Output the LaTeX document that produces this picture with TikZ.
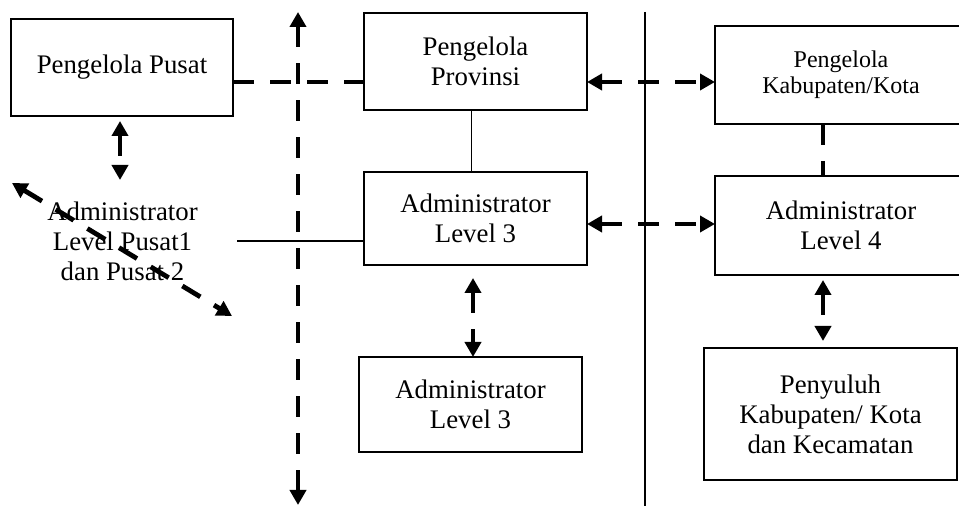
\documentclass[tikz,border=0pt]{standalone}
\usepackage{fontspec}
\setmainfont{Liberation Serif}
\usetikzlibrary{positioning,calc,arrows.meta}
\tikzset{kotak/.style={draw, line width=0.65pt, rectangle, align=center, inner sep=0pt, outer sep=0pt, minimum width=111.5pt, minimum height=48.5pt, font=\fontsize{13.4}{15}\selectfont}}
\tikzset{teks/.style={align=center, inner sep=0pt, font=\fontsize{13.4}{15}\selectfont}}
\tikzset{garis/.style={draw, line width=0.65pt}}
\tikzset{putus/.style={draw, line width=2.4pt, dash pattern=on 10.5pt off 8pt}}
\tikzset{panah/.style={putus, {Triangle[length=7.5pt,width=8pt]}-{Triangle[length=7.5pt,width=8pt]}}}

\begin{document}
\begin{tikzpicture}
	\useasboundingbox (0,0) rectangle (479.5pt,-253pt);
	\node[kotak, minimum width=111pt] (pusat) at (61pt,-33.75pt) {Pengelola Pusat};
	\node[kotak, right=65.5pt of pusat, yshift=3pt] (prov) {Pengelola\\Provinsi};
	\node[kotak, below=31pt of prov, minimum height=46.5pt] (adm3) {Administrator\\Level 3};
	\node[kotak, below=46pt of adm3, xshift=-2.5pt, minimum height=47.5pt] (adm3b) {Administrator\\Level 3};
	\node[kotak, right=64pt of prov, yshift=-6.75pt, minimum width=126pt, minimum height=49pt,
		font=\fontsize{12}{13}\selectfont] (kab) {Pengelola\\Kabupaten/Kota};
	\node[kotak, below=26pt of kab, minimum width=126pt, minimum height=49.5pt] (adm4) {Administrator\\Level 4};
	\node[kotak, below=36.5pt of adm4, xshift=-5.25pt, minimum width=126.5pt, minimum height=66pt] (peny)
		{Penyuluh\\Kabupaten/ Kota\\dan Kecamatan};
	\node[teks] (admpusat) at ($(pusat)+(0.25pt,-86.75pt)$) {Administrator\\Level Pusat1\\dan Pusat 2};
	%
	\coordinate (atas) at (149pt,-6pt);
	\coordinate (bawah) at (149pt,-252.5pt);
	\coordinate (batasT) at (322.5pt,-6pt);
	\coordinate (batasB) at (322.5pt,-253pt);
	\coordinate (diagA) at (6pt,-91.5pt);
	\coordinate (diagB) at (116pt,-158pt);
	\coordinate (garisL) at (118.5pt,-120.5pt);
	\coordinate (ujungP) at ([xshift=-1pt,yshift=-32pt]pusat.south);
	\coordinate (kiriP) at ([yshift=-7.25pt]pusat.east);
	\coordinate (kananP) at ([yshift=-10.25pt]prov.east);
	\coordinate (kanan3) at ([yshift=-2.75pt]adm3.east);
	%
	\draw[putus] (kiriP) -- (kiriP -| prov.west);
	\draw[panah] (atas) -- (bawah);
	\draw[garis] (batasT) -- (batasB);
	\draw[panah, shorten <=2.5pt] ([xshift=-1pt]pusat.south) -- (ujungP);
	\draw[panah] (diagA) -- (diagB);
	\draw[garis] (garisL) -- (garisL -| adm3.west);
	\draw[garis] ([xshift=-2pt]prov.south) -- ([xshift=-2pt]adm3.north);
	\draw[panah] (kananP) -- (kananP -| kab.west);
	\draw[panah] (kanan3) -- (kanan3 -| adm4.west);
	\draw[putus] ([xshift=-9pt]kab.south) -- ([xshift=-9pt]adm4.north);
	\draw[panah, shorten <=6.5pt] ([xshift=-1.25pt]adm3.south) -- ([xshift=1.25pt]adm3b.north);
	\draw[panah, shorten <=2.5pt, shorten >=3.5pt] ([xshift=-9pt]adm4.south) -- ([xshift=-3.75pt]peny.north);
\end{tikzpicture}
\end{document}
